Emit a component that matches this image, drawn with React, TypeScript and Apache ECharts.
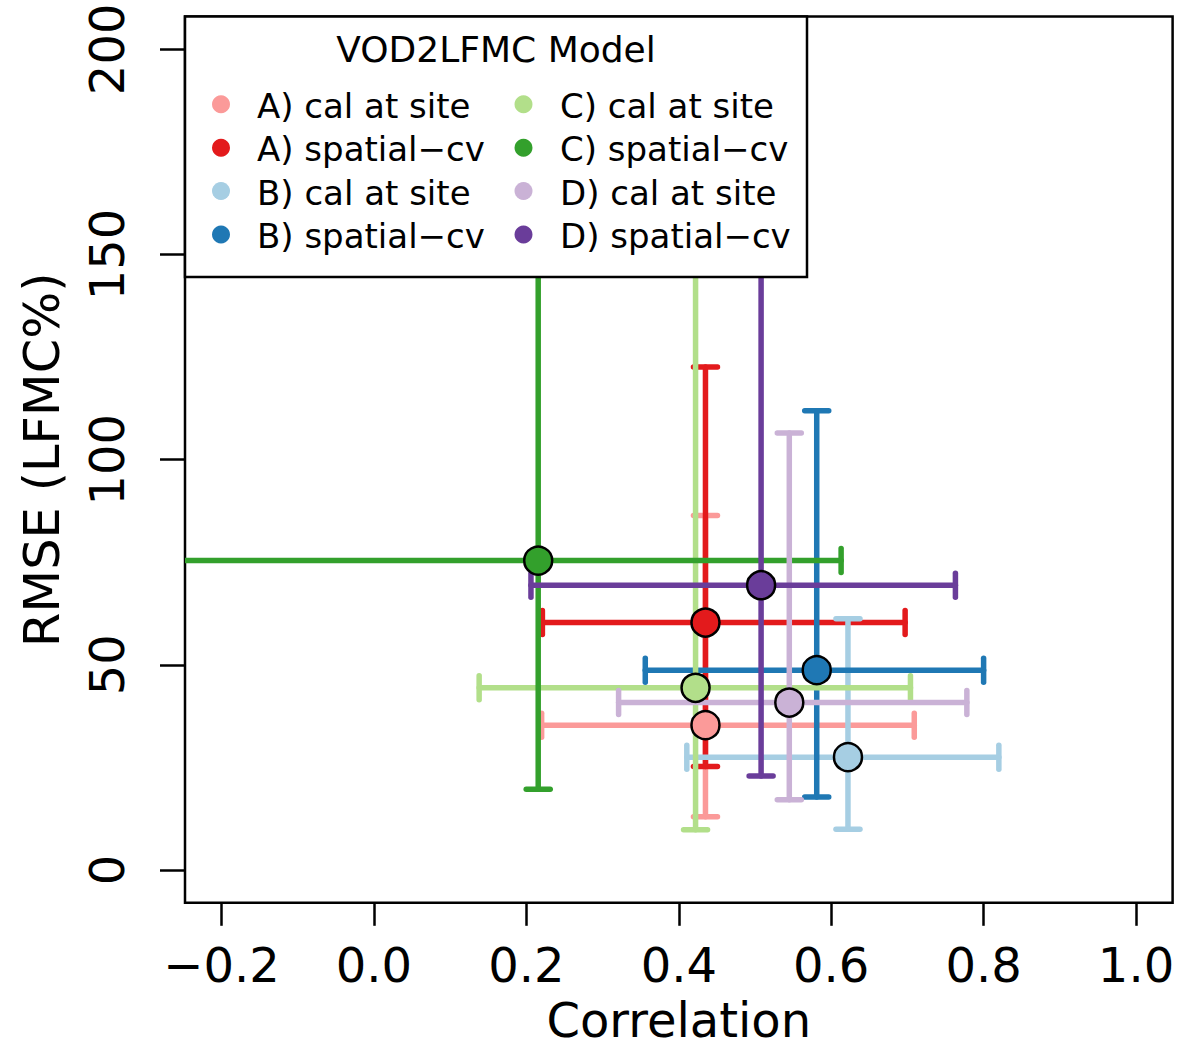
import { useEffect, useRef } from "react";
import * as echarts from "echarts";

// ---- data ----
const models = [
  "A) cal at site",
  "A) spatial\u2212cv",
  "B) cal at site",
  "B) spatial\u2212cv",
  "C) cal at site",
  "C) spatial\u2212cv",
  "D) cal at site",
  "D) spatial\u2212cv",
];
const colors = ["#FB9A99", "#E31A1C", "#A6CEE3", "#1F78B4", "#B2DF8A", "#33A02C", "#CAB2D6", "#6A3D9A"];
const corr = [0.435, 0.435, 0.622, 0.581, 0.422, 0.2155, 0.545, 0.508];
const corrLow = [0.220, 0.221, 0.4105, 0.356, 0.138, -0.30, 0.321, 0.206];
const corrHigh = [0.709, 0.697, 0.820, 0.800, 0.704, 0.613, 0.778, 0.763];
const rmse = [35.3, 60.3, 27.5, 48.7, 44.4, 75.4, 40.8, 69.4];
const rmseLow = [13.0, 25.2, 9.9, 17.8, 9.8, 19.7, 17.1, 22.9];
const rmseHigh = [86.4, 122.6, 61.2, 111.9, 165, 175, 106.5, 168];
const xTicks = [-0.2, 0, 0.2, 0.4, 0.6, 0.8, 1.0];
const yTicks = [0, 50, 100, 150, 200];
const legendTitle = "VOD2LFMC Model";
const xTitle = "Correlation";
const yTitle = "RMSE (LFMC%)";

const FONT = "DejaVu Sans";

export default function App() {
  const ref = useRef<HTMLDivElement>(null);
  useEffect(() => {
    const chart = echarts.init(ref.current as HTMLDivElement, null, { renderer: "svg" });
    const series: any[] = [];
    models.forEach((name, i) => {
      series.push({
        type: "custom",
        name,
        clip: true,
        silent: true,
        data: [[corr[i], rmse[i], corrLow[i], corrHigh[i], rmseLow[i], rmseHigh[i]]],
        encode: { x: [0, 2, 3], y: [1, 4, 5] },
        renderItem: (_params: any, api: any) => {
          const x = api.value(0);
          const y = api.value(1);
          const L = api.coord([api.value(2), y]);
          const R = api.coord([api.value(3), y]);
          const B = api.coord([x, api.value(4)]);
          const T = api.coord([x, api.value(5)]);
          const style = { stroke: colors[i], lineWidth: 5.5, lineCap: "round" };
          const cap = 12;
          const ln = (x1: number, y1: number, x2: number, y2: number) => ({
            type: "line",
            shape: { x1, y1, x2, y2 },
            style,
          });
          return {
            type: "group",
            children: [
              ln(L[0], L[1], R[0], R[1]),
              ln(L[0], L[1] - cap, L[0], L[1] + cap),
              ln(R[0], R[1] - cap, R[0], R[1] + cap),
              ln(B[0], B[1], T[0], T[1]),
              ln(B[0] - cap, B[1], B[0] + cap, B[1]),
              ln(T[0] - cap, T[1], T[0] + cap, T[1]),
            ],
          };
        },
      });
      series.push({
        type: "scatter",
        name,
        silent: true,
        data: [[corr[i], rmse[i]]],
        symbol: "circle",
        symbolSize: 28,
        itemStyle: { color: colors[i], borderColor: "#000", borderWidth: 2.5, opacity: 1 },
      });
    });

    // legend drawn as graphic elements (two columns, titled box)
    const gfx: any[] = [];
    gfx.push({
      type: "rect",
      z: 100,
      shape: { x: 185, y: 16.5, width: 622, height: 260.5 },
      style: { fill: "#fff", stroke: "#000", lineWidth: 2.5 },
      silent: true,
    });
    gfx.push({
      type: "text",
      z: 101,
      x: 496,
      y: 49,
      style: { text: legendTitle, fontSize: 36, fontFamily: FONT, fill: "#000", align: "center", verticalAlign: "middle" },
      silent: true,
    });
    const rowY = [104.3, 147.7, 191, 234.5];
    const colDotX = [221, 523.5];
    const colTextX = [257, 560];
    models.forEach((name, i) => {
      const col = Math.floor(i / 4);
      const row = i % 4;
      gfx.push({
        type: "circle",
        z: 101,
        shape: { cx: colDotX[col], cy: rowY[row], r: 9 },
        style: { fill: colors[i] },
        silent: true,
      });
      gfx.push({
        type: "text",
        z: 101,
        x: colTextX[col],
        y: rowY[row] + 1.5,
        style: { text: name, fontSize: 34, fontFamily: FONT, fill: "#000", align: "left", verticalAlign: "middle" },
        silent: true,
      });
    });

    const fmtX = (v: number) => v.toFixed(1).replace("-", "\u2212");

    chart.setOption({
      animation: false,
      backgroundColor: "#fff",
      textStyle: { fontFamily: FONT },
      grid: {
        left: 185,
        right: 6.4,
        top: 16.5,
        bottom: 145.2,
        outerBoundsMode: "none",
        containLabel: false,
        show: true,
        borderColor: "#000",
        borderWidth: 2.5,
        backgroundColor: "transparent",
      },
      xAxis: {
        type: "value",
        min: -0.248,
        max: 1.048,
        name: xTitle,
        nameLocation: "middle",
        nameGap: 93,
        nameTextStyle: { fontSize: 48, lineHeight: 48, fontFamily: FONT, color: "#000" },
        axisLine: { show: false, onZero: false },
        splitLine: { show: false },
        axisTick: { show: true, inside: false, length: 23, customValues: xTicks, lineStyle: { color: "#000", width: 2.5 } },
        axisLabel: {
          customValues: xTicks,
          formatter: fmtX,
          fontSize: 48,
          fontFamily: FONT,
          color: "#000",
          margin: 38,
        },
      },
      yAxis: {
        type: "value",
        min: -8,
        max: 208,
        name: yTitle,
        nameLocation: "middle",
        nameGap: 118,
        nameTextStyle: { fontSize: 49.5, fontFamily: FONT, color: "#000" },
        axisLine: { show: false, onZero: false },
        splitLine: { show: false },
        axisTick: { show: true, inside: false, length: 25, customValues: yTicks, lineStyle: { color: "#000", width: 2.5 } },
        axisLabel: {
          customValues: yTicks,
          rotate: 90,
          fontSize: 48,
          fontFamily: FONT,
          color: "#000",
          margin: 54,
        },
      },
      graphic: { elements: gfx },
      series,
    });
    return () => chart.dispose();
  }, []);
  return (
    <div
      ref={ref}
      style={{ position: "fixed", left: 0, top: 0, width: 1179, height: 1048, background: "#fff" }}
    />
  );
}
